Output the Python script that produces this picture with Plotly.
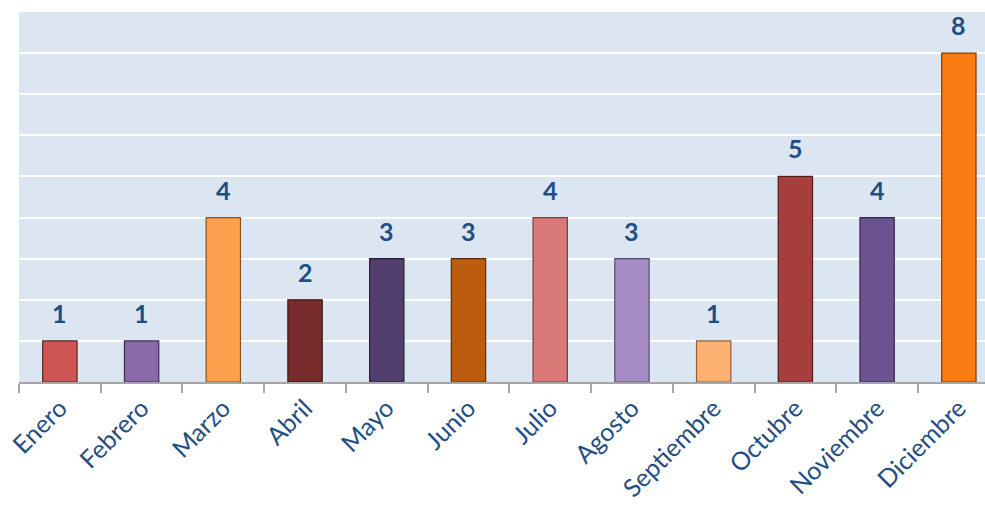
import plotly.graph_objects as go

# Monthly counts
months = ["Enero", "Febrero", "Marzo", "Abril", "Mayo", "Junio", "Julio",
          "Agosto", "Septiembre", "Octubre", "Noviembre", "Diciembre"]
counts = [1, 1, 4, 2, 3, 3, 4, 3, 1, 5, 4, 8]
bar_colors = ["#cd5553", "#8a6aaa", "#fca04e", "#772c2b", "#523e6c", "#bd5c0e",
              "#da7a78", "#a58cc4", "#fdb274", "#a63f3c", "#6b5290", "#fb7c12"]
edge_colors = ["#5a2221", "#3d2d52", "#8a5020", "#3a1514", "#2a1f38", "#5e2e08",
               "#7a3e3d", "#5a4a70", "#8e6038", "#4e1c1b", "#352848", "#7a3a08"]

label_color = "#1f4e86"
font_family = "Lato, 'Open Sans', sans-serif"

fig = go.Figure()
fig.add_trace(go.Bar(
    x=months,
    y=counts,
    width=0.42,
    marker=dict(color=bar_colors, line=dict(color=edge_colors, width=1.2)),
    hoverinfo="x+y",
))

# Value labels above each bar
for m, c in zip(months, counts):
    fig.add_annotation(
        x=m, y=c, text=f"<b>{c}</b>", showarrow=False,
        yanchor="bottom", yshift=11,
        font=dict(family=font_family, size=25, color=label_color),
    )

fig.update_layout(
    width=985, height=506,
    margin=dict(l=19, r=0, t=12, b=124),
    paper_bgcolor="white",
    plot_bgcolor="#dce6f2",
    showlegend=False,
    bargap=0.5,
)
fig.update_xaxes(
    range=[-0.5, 11.32],
    tickangle=-45,
    tickfont=dict(family=font_family, size=25, color=label_color),
    showline=True, linecolor="#a6a6a6", linewidth=1.5,
    ticks="outside", tickson="boundaries", ticklen=9, tickcolor="#a6a6a6", tickwidth=1.5,
    showgrid=False,
)
fig.update_yaxes(
    range=[0, 9], dtick=1,
    showticklabels=False,
    showgrid=True, gridcolor="white", gridwidth=2,
    zeroline=False,
)

fig.write_html("out.html")
